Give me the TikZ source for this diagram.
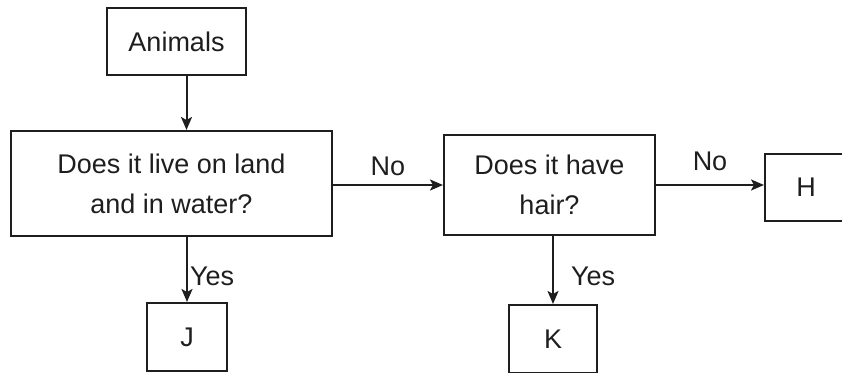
\documentclass[tikz,border=0pt]{standalone}
\usepackage{fontspec}
\setmainfont{Liberation Sans}
\usepackage{xcolor}
\definecolor{ink}{HTML}{1E1E1E}
\usetikzlibrary{arrows.meta, positioning}

\begin{document}
\begin{tikzpicture}[x=1pt, y=-1pt, >={Stealth[length=13pt,width=11pt,inset=3pt]},
    box/.style={draw=ink, line width=2pt, align=center, inner sep=0pt,
                font=\fontsize{27}{40}\selectfont, text=ink},
    lbl/.style={font=\fontsize{27}{32}\selectfont, text=ink, inner sep=2pt},
    link/.style={->, draw=ink, line width=2pt}]
  \useasboundingbox (0,0) rectangle (842,372);

  \node[box, minimum width=139pt, minimum height=67pt] (animals) at (176.5,41.5) {Animals};

  \node[box, minimum width=321pt, minimum height=105pt] (live) at (171.5,183.5)
        {Does it live on land\\ and in water?};

  \node[box, minimum width=211pt, minimum height=100pt] (hair) at (549.5,185)
        {Does it have\\ hair?};

  \node[box, minimum width=82pt, minimum height=67pt] (h) at (806,187.5) {H};
  \node[box, minimum width=80pt, minimum height=68pt] (j) at (187,337) {J};
  \node[box, minimum width=88pt, minimum height=68pt] (k) at (553,339) {K};

  % connectors
  \draw[link] ([xshift=10pt]animals.south) -- ([xshift=10pt]animals.south |- live.north);

  \draw[link] (live.south -| j.north) -- node[lbl, right, pos=0.6] {Yes} (j.north);

  \draw[link] (live.east |- hair.west) -- node[lbl, above=6pt] {No} (hair.west);

  \draw[link] (hair.east) -- node[lbl, above=11pt] {No} (hair.east -| h.west);

  \draw[link] (hair.south -| k.north) -- node[lbl, right=15pt, pos=0.6] {Yes} (k.north);
\end{tikzpicture}
\end{document}
